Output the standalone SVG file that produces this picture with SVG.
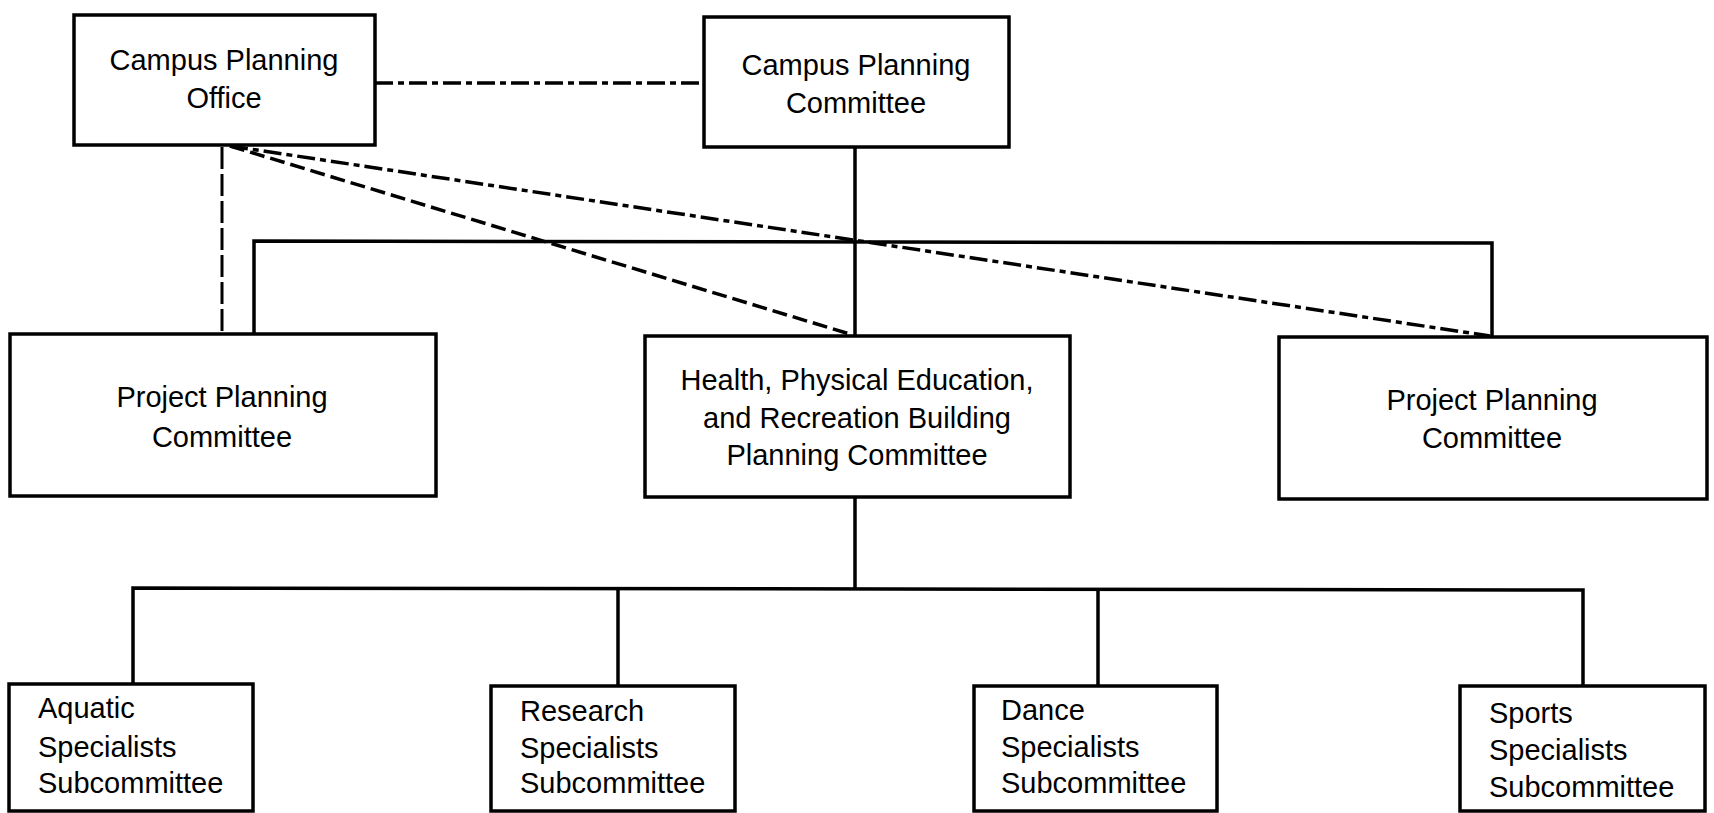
<svg xmlns="http://www.w3.org/2000/svg" width="1714" height="813" viewBox="0 0 1714 813">
<style>
.box{fill:#fff;stroke:#000;stroke-width:3.5}
.t{font-family:"Liberation Sans",Arial,sans-serif;font-size:29px;fill:#000}
.c{text-anchor:middle}
.solid{stroke:#000;stroke-width:3.5;fill:none}
.dash{stroke:#000;stroke-width:3.5;fill:none;stroke-dasharray:15 6}
.dashdot{stroke:#000;stroke-width:3.5;fill:none;stroke-dasharray:18 5 6 5}
.vdash{stroke:#000;stroke-width:3;fill:none;stroke-dasharray:22 5}
</style>
<rect width="1714" height="813" fill="#fff"/>
<g id="connectors">
<line class="dashdot" x1="375" y1="83" x2="704" y2="83"/>
<line class="solid" x1="855" y1="147" x2="855" y2="336"/>
<polyline class="solid" points="254,334 254,241 1492,243 1492,337"/>
<line class="vdash" x1="222" y1="147" x2="222" y2="334"/>
<line class="dash" x1="230" y1="146" x2="853" y2="335"/>
<line class="dashdot" x1="230" y1="146" x2="1490" y2="336"/>
<line class="solid" x1="855" y1="497" x2="855" y2="589"/>
<polyline class="solid" points="133,684 133,588 1583,590 1583,686"/>
<line class="solid" x1="618" y1="588" x2="618" y2="686"/>
<line class="solid" x1="1098" y1="589" x2="1098" y2="686"/>
</g>
<g id="campus-planning-office">
<rect class="box" x="74" y="15" width="301" height="130"/>
<text class="t c" x="224" y="70">Campus Planning</text>
<text class="t c" x="224" y="108">Office</text>
</g>
<g id="campus-planning-committee">
<rect class="box" x="704" y="17" width="305" height="130"/>
<text class="t c" x="856" y="75">Campus Planning</text>
<text class="t c" x="856" y="113">Committee</text>
</g>
<g id="project-planning-left">
<rect class="box" x="10" y="334" width="426" height="162"/>
<text class="t c" x="222" y="407">Project Planning</text>
<text class="t c" x="222" y="447">Committee</text>
</g>
<g id="hper-committee">
<rect class="box" x="645" y="336" width="425" height="161"/>
<text class="t c" x="857" y="390">Health, Physical Education,</text>
<text class="t c" x="857" y="428">and Recreation Building</text>
<text class="t c" x="857" y="465">Planning Committee</text>
</g>
<g id="project-planning-right">
<rect class="box" x="1279" y="337" width="428" height="162"/>
<text class="t c" x="1492" y="410">Project Planning</text>
<text class="t c" x="1492" y="448">Committee</text>
</g>
<g id="aquatic">
<rect class="box" x="9" y="684" width="244" height="127"/>
<text class="t" x="38" y="718">Aquatic</text>
<text class="t" x="38" y="757">Specialists</text>
<text class="t" x="38" y="793">Subcommittee</text>
</g>
<g id="research">
<rect class="box" x="491" y="686" width="244" height="125"/>
<text class="t" x="520" y="721">Research</text>
<text class="t" x="520" y="758">Specialists</text>
<text class="t" x="520" y="793">Subcommittee</text>
</g>
<g id="dance">
<rect class="box" x="974" y="686" width="243" height="125"/>
<text class="t" x="1001" y="720">Dance</text>
<text class="t" x="1001" y="757">Specialists</text>
<text class="t" x="1001" y="793">Subcommittee</text>
</g>
<g id="sports">
<rect class="box" x="1460" y="686" width="245" height="125"/>
<text class="t" x="1489" y="723">Sports</text>
<text class="t" x="1489" y="760">Specialists</text>
<text class="t" x="1489" y="797">Subcommittee</text>
</g>
</svg>
